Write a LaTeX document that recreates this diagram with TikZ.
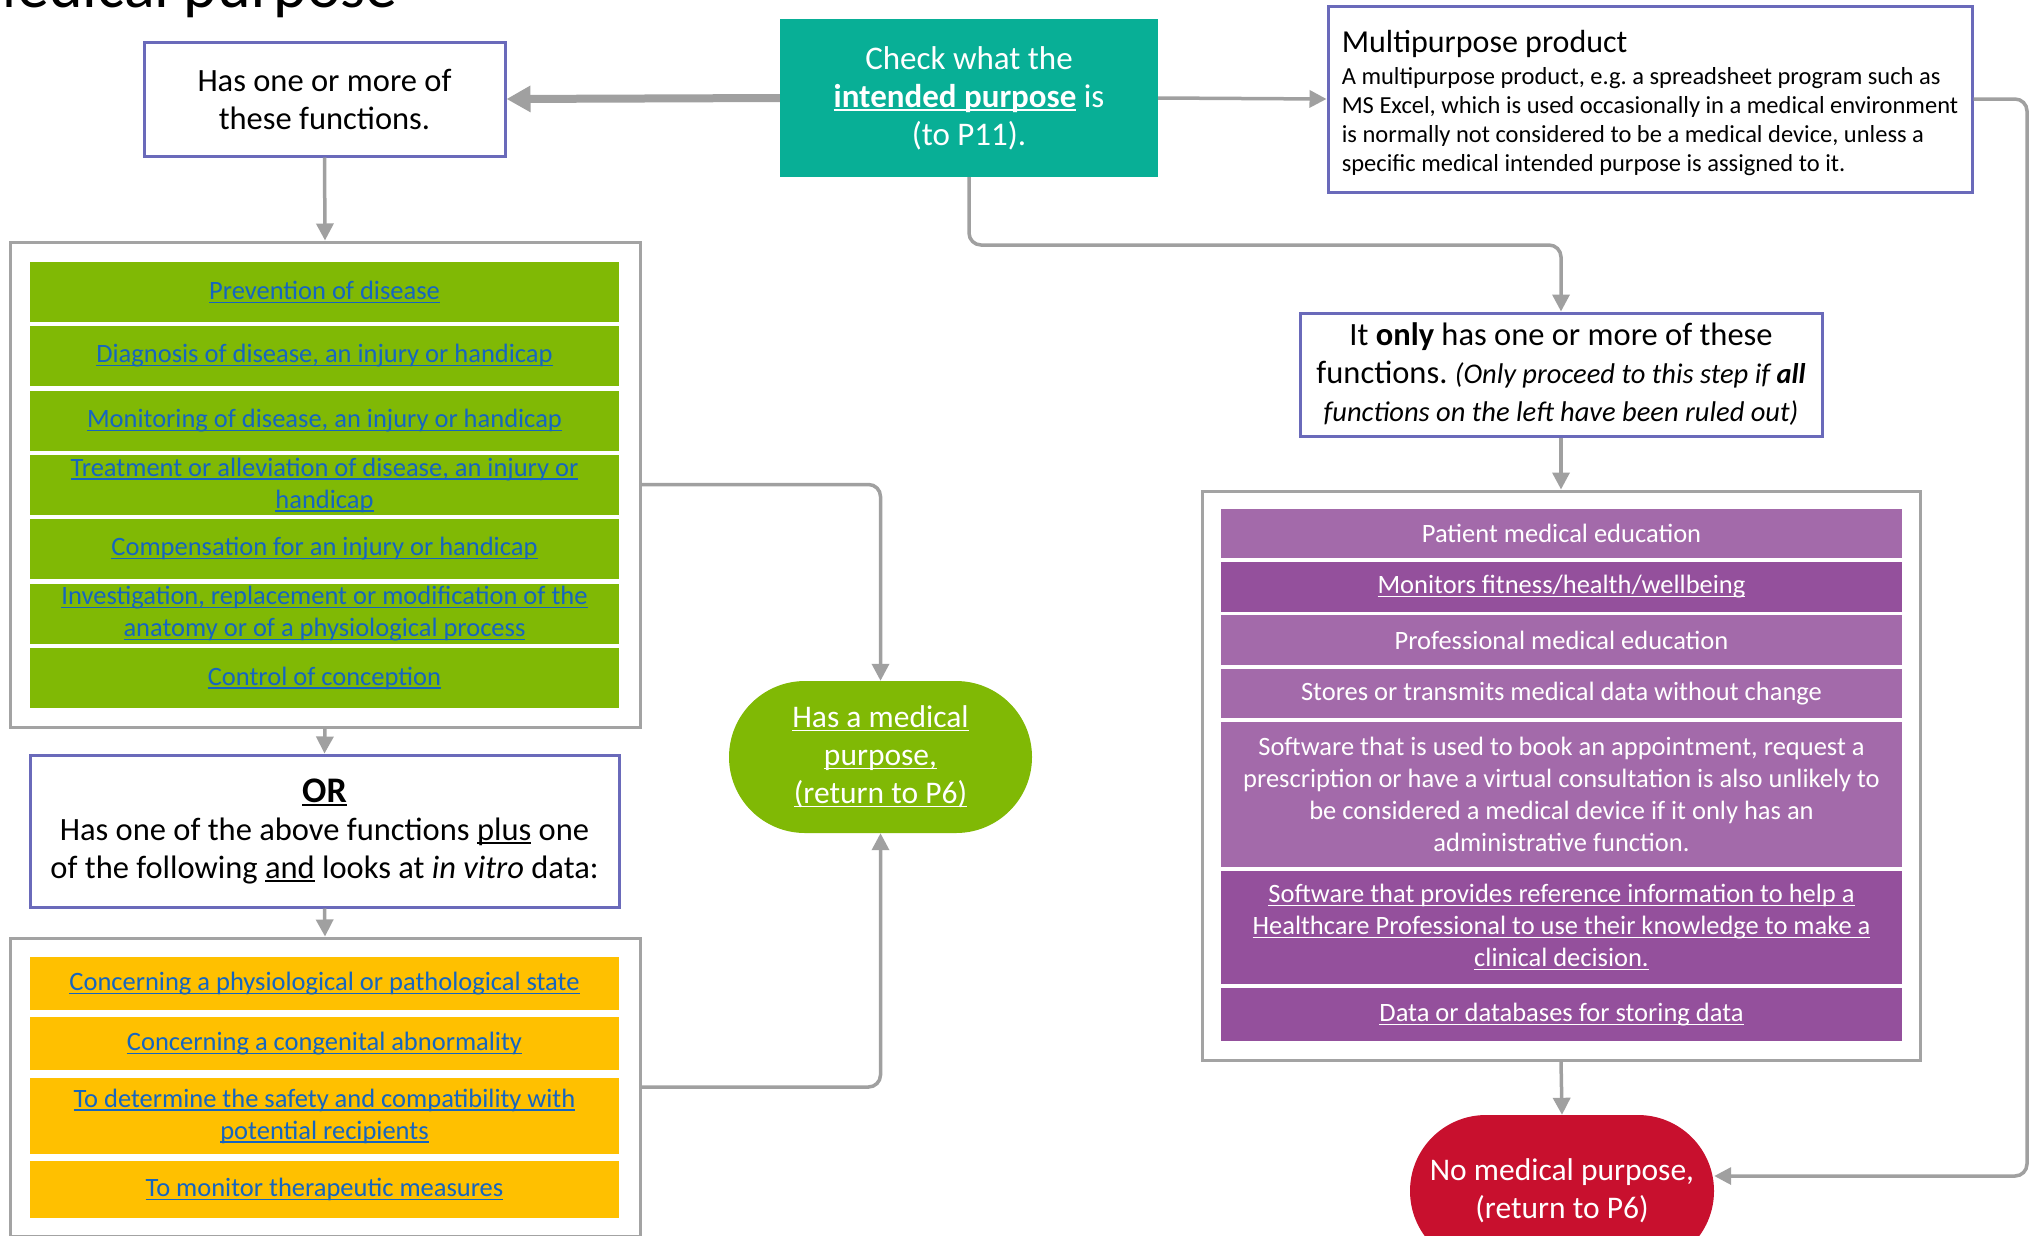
\documentclass[tikz,border=0pt]{standalone}
\usepackage{fontspec}
\setmainfont{Carlito}
\usetikzlibrary{arrows.meta}
\frenchspacing
\definecolor{tealbox}{HTML}{08AF96}
\definecolor{medgreen}{HTML}{80B905}
\definecolor{ambery}{HTML}{FFC000}
\definecolor{plight}{HTML}{A36AAA}
\definecolor{pdark}{HTML}{94509C}
\definecolor{nored}{HTML}{C8102E}
\definecolor{boxblue}{HTML}{6A6ABA}
\definecolor{linegray}{HTML}{A0A0A0}
\definecolor{framegray}{HTML}{A3A3A3}
\definecolor{linkblue}{HTML}{1565C0}
\newsavebox\ulbox
\newcommand\uln[1]{\sbox\ulbox{#1}\rlap{\rule[-3.5pt]{\wd\ulbox}{1.3pt}}\usebox\ulbox}
\newcommand\fbig{\fontsize{32.5pt}{38pt}\selectfont}
\newcommand\fcheck{\fontsize{33pt}{38pt}\selectfont}
\newcommand\fstad{\fontsize{31.5pt}{38pt}\selectfont}
\newcommand\frow{\fontsize{26.5pt}{32pt}\selectfont}
\newcommand\fprow{\fontsize{26.5pt}{32pt}\selectfont}
\newcommand\fbody{\fontsize{24.5pt}{29pt}\selectfont}
\newcommand\fhead{\fontsize{32pt}{35pt}\selectfont}
\newcommand\fital{\fontsize{28.5pt}{38pt}\selectfont}
\newcommand\ftitle{\fontsize{64pt}{70pt}\selectfont}
\tikzset{
  conn/.style={draw=linegray, line width=3.5pt, -{Triangle[length=17pt,width=17pt]}, rounded corners=12pt},
  thickconn/.style={draw=linegray, line width=8pt, -{Triangle[length=24pt,width=25pt]}},
  bluebox/.style={draw=boxblue, line width=3pt, fill=white, align=center, inner sep=0pt, font=\fbig},
  container/.style={draw=framegray, line width=3pt, fill=white, inner sep=0pt},
  greenrow/.style={fill=medgreen, text=linkblue, align=center, inner sep=0pt, minimum width=589pt, minimum height=60pt, font=\frow},
  yellowrow/.style={fill=ambery, text=linkblue, align=center, inner sep=0pt, minimum width=589pt, font=\frow},
  lightrow/.style={fill=plight, text=white, align=center, inner sep=0pt, minimum width=681pt, font=\fprow},
  darkrow/.style={fill=pdark, text=white, align=center, inner sep=0pt, minimum width=681pt, font=\fprow},
  stadium/.style={text=white, align=center, inner sep=0pt, minimum width=303pt, minimum height=152pt, rounded corners=76pt, font=\fstad}
}
\begin{document}
\begin{tikzpicture}[x=1pt,y=-1pt]
\useasboundingbox (0,0) rectangle (2036,1235);
\fill[white] (0,0) rectangle (2036,1235);

% title (cut off at top)
\node[anchor=base east, inner sep=0pt, font=\ftitle] (title) at (398,7) {Medical purpose};

% top row
\node[bluebox, minimum width=361pt, minimum height=114pt] (has) at (324.5,99)
  {Has one or more of\\these functions.};
\node[fill=tealbox, text=white, align=center, inner sep=0pt, minimum width=378pt, minimum height=158pt, font=\fcheck] (check) at (969,98)
  {Check what the\\\uln{\textbf{intended purpose}} is\\(to P11).};
\node[draw=boxblue, line width=3pt, fill=white, align=left, inner sep=0pt, minimum width=644pt, minimum height=186pt, font=\fbody] (multi) at (1650,99)
  {\rule{0pt}{31pt}{\fhead Multipurpose product}\\[3pt]
   A multipurpose product, e.g. a spreadsheet program such as\\
   MS Excel, which is used occasionally in a medical environment\\
   is normally not considered to be a medical device, unless a\\
   specific medical intended purpose is assigned to it.};

% left: green functions
\node[container, minimum width=630pt, minimum height=485pt] (greenbox) at (325,484.5) {};
\node[greenrow] (g1) at (324.5,292) {\uln{Prevention of disease}};
\node[greenrow] (g2) at (324.5,356) {\uln{Diagnosis of disease, an injury or handicap}};
\node[greenrow] (g3) at (324.5,421) {\uln{Monitoring of disease, an injury or handicap}};
\node[greenrow] (g4) at (324.5,485) {\uln{Treatment or alleviation of disease, an injury or}\\\uln{handicap}};
\node[greenrow] (g5) at (324.5,549) {\uln{Compensation for an injury or handicap}};
\node[greenrow] (g6) at (324.5,614) {\uln{Investigation, replacement or modification of the}\\\uln{anatomy or of a physiological process}};
\node[greenrow] (g7) at (324.5,678) {\uln{Control of conception}};

% OR box
\node[bluebox, minimum width=589pt, minimum height=152pt] (orbox) at (324.5,831)
  {{\fontsize{36pt}{40pt}\selectfont\uln{\textbf{OR}}}\\
   Has one of the above functions \uln{plus} one\\
   of the following \uln{and} looks at \textit{in vitro} data:};

% left: yellow functions
\node[container, minimum width=630pt, minimum height=298pt] (yellowbox) at (325,1087) {};
\node[yellowrow, minimum height=53pt] (y1) at (324.5,983.5) {\uln{Concerning a physiological or pathological state}};
\node[yellowrow, minimum height=53pt] (y2) at (324.5,1043.5) {\uln{Concerning a congenital abnormality}};
\node[yellowrow, minimum height=76pt] (y3) at (324.5,1116) {\uln{To determine the safety and compatibility with}\\\uln{potential recipients}};
\node[yellowrow, minimum height=57pt] (y4) at (324.5,1189.5) {\uln{To monitor therapeutic measures}};

% has a medical purpose
\node[stadium, fill=medgreen] (hasmed) at (880.5,757)
  {\uln{Has a medical}\\\uln{purpose,}\\\uln{(return to P6)}};

% right side
\node[bluebox, minimum width=522pt, minimum height=123pt] (only) at (1561,374.5)
  {It \textbf{only} has one or more of these\\
   functions. {\fital\itshape (Only proceed to this step if \textbf{all}}\\
   {\fital\itshape functions on the left have been ruled out)}};

\node[container, minimum width=718pt, minimum height=569pt] (purplebox) at (1561,775.5) {};
\node[lightrow, minimum height=49pt] (p1) at (1561.5,533.5) {Patient medical education};
\node[darkrow, minimum height=50pt] (p2) at (1561.5,587) {\uln{Monitors fitness/health/wellbeing}};
\node[lightrow, minimum height=50pt] (p3) at (1561.5,640) {Professional medical education};
\node[lightrow, minimum height=49pt] (p4) at (1561.5,693.5) {Stores or transmits medical data without change};
\node[lightrow, minimum height=145pt] (p5) at (1561.5,794.5)
  {Software that is used to book an appointment, request a\\
   prescription or have a virtual consultation is also unlikely to\\
   be considered a medical device if it only has an\\
   administrative function.};
\node[darkrow, minimum height=113pt] (p6) at (1561.5,927.5)
  {\uln{Software that provides reference information to help a}\\
   \uln{Healthcare Professional to use their knowledge to make a}\\
   \uln{clinical decision.}};
\node[darkrow, minimum height=53pt] (p7) at (1561.5,1014.5) {\uln{Data or databases for storing data}};

\node[stadium, fill=nored, minimum width=304pt] (nomed) at (1562,1191)
  {No medical purpose,\\(return to P6)};

% connectors
\coordinate (j1) at (1561,245);
\coordinate (j3) at (2027,1176);
\draw[thickconn] (check.west) -- (has.east);
\draw[conn] (check.east) -- (multi.west);
\draw[conn] (check.south) |- (j1) -- (only.north);
\draw[conn] (multi.east) -| (j3) -- (nomed.east |- j3);
\draw[conn] (has.south) -- (greenbox.north);
\draw[conn] (greenbox.south) -- (orbox.north);
\draw[conn] (orbox.south) -- (yellowbox.north);
\draw[conn] (greenbox.east) -| (hasmed.north);
\draw[conn] (yellowbox.east) -| (hasmed.south);
\draw[conn] (only.south) -- (purplebox.north);
\draw[conn] (purplebox.south) -- (nomed.north);
\end{tikzpicture}
\end{document}
